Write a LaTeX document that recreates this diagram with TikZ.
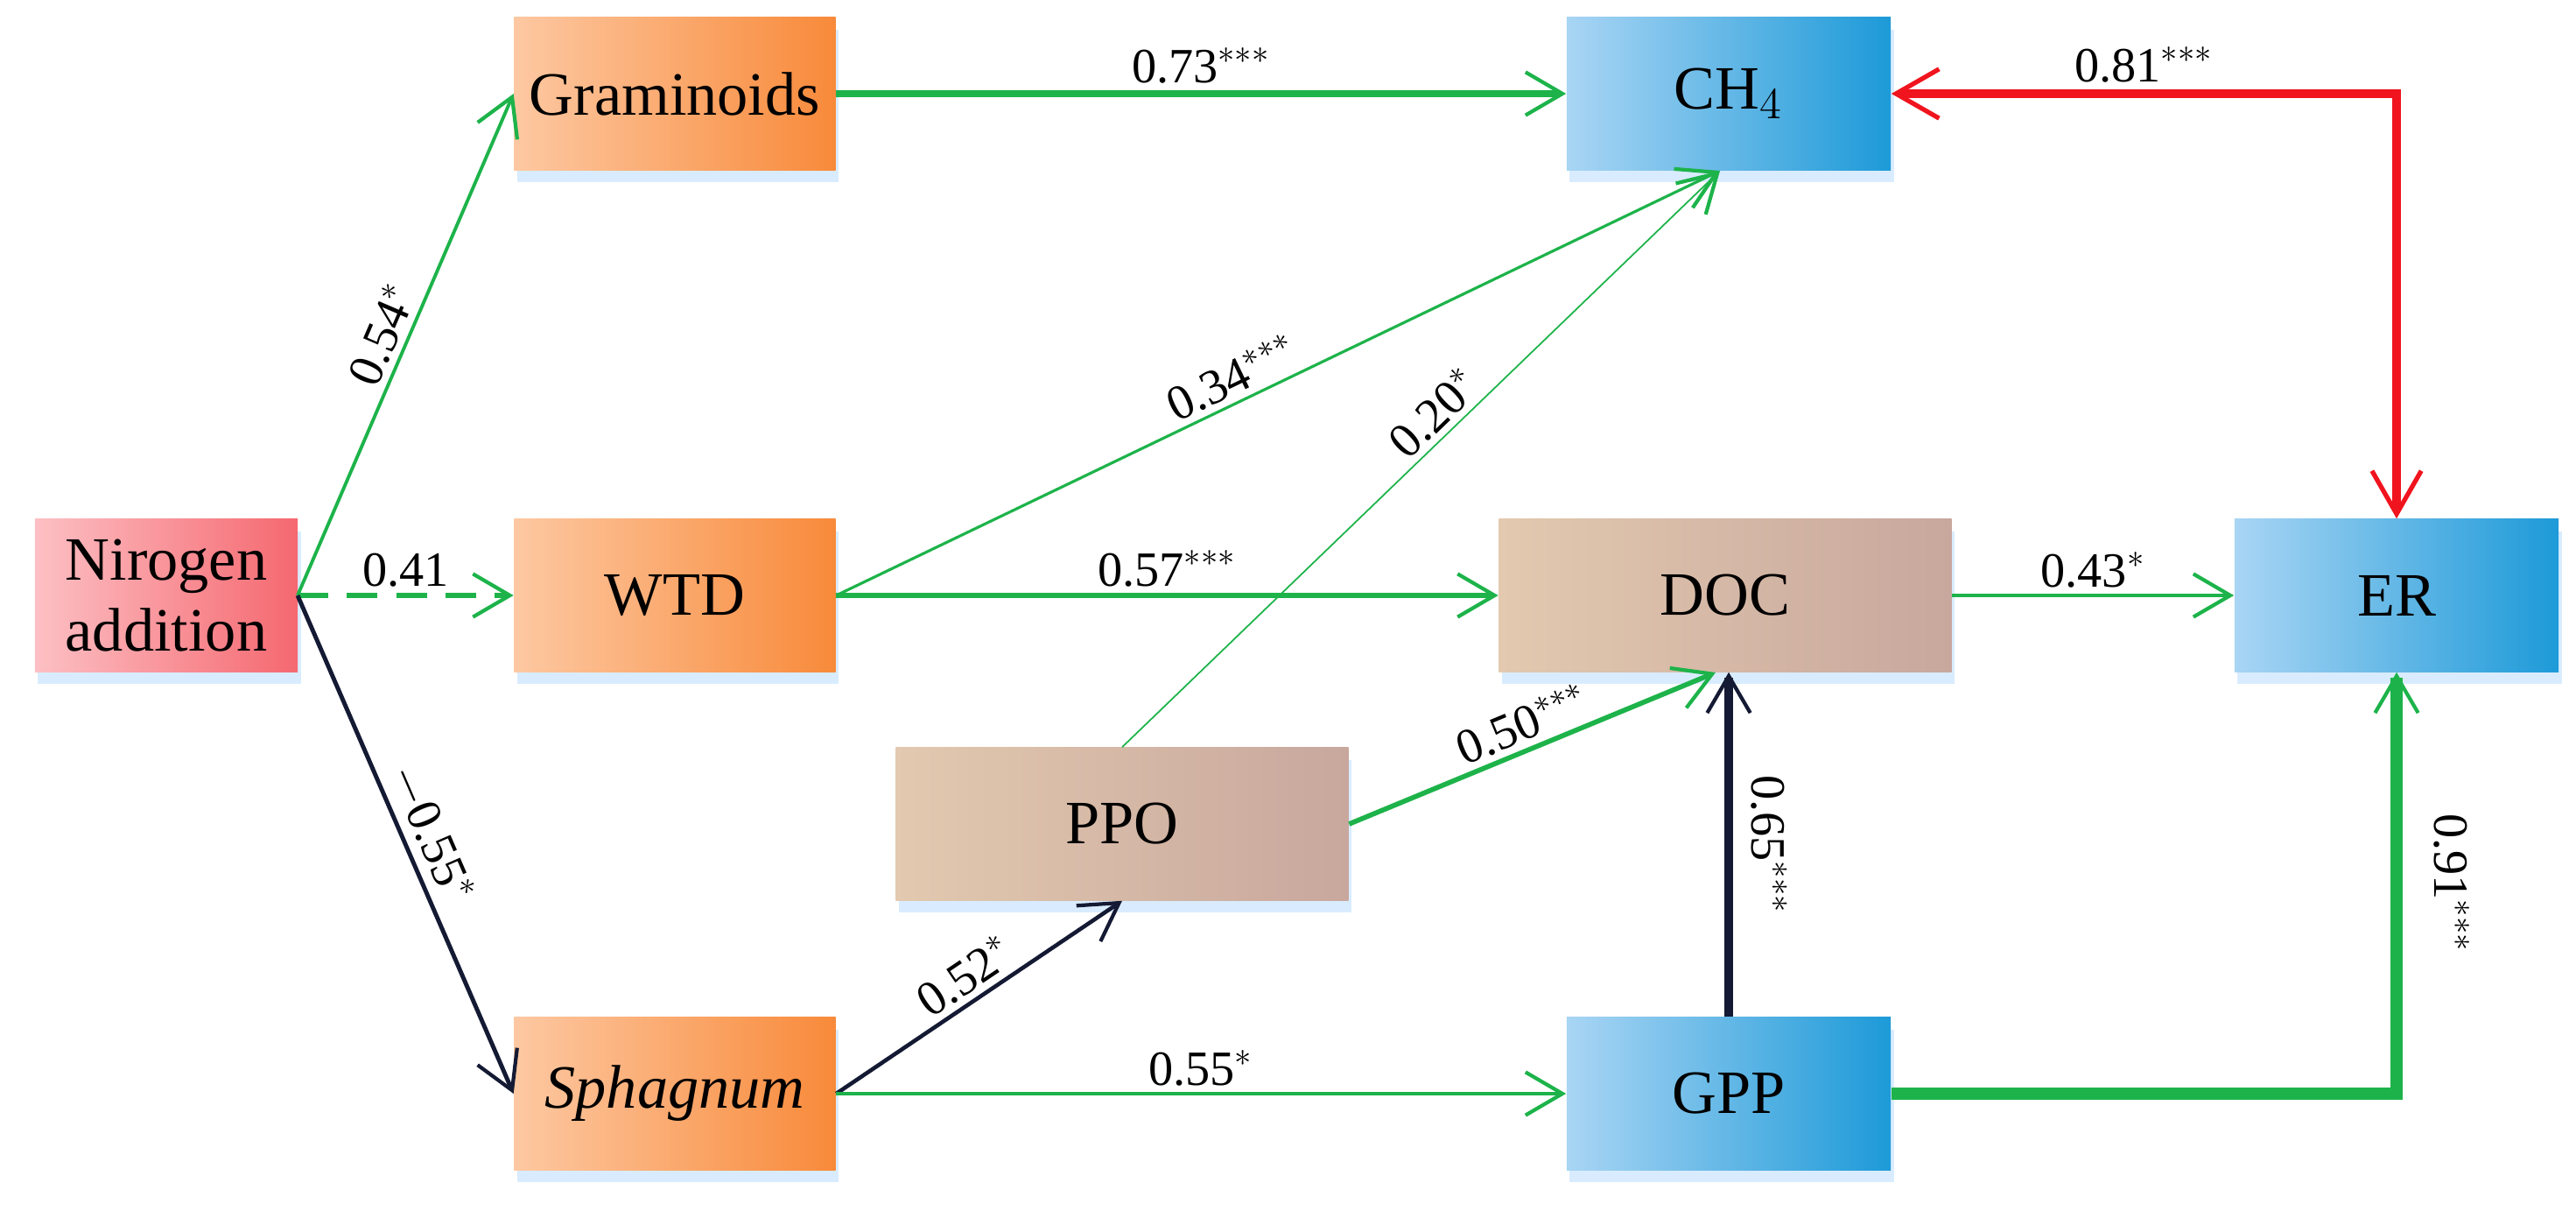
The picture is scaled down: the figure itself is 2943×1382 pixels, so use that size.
\documentclass[tikz,border=0pt]{standalone}
\usepackage{fontspec}
\setmainfont{Liberation Serif}
\usetikzlibrary{arrows.meta,shadows}
\definecolor{gr}{HTML}{1DB34A}
\definecolor{nv}{HTML}{141A33}
\definecolor{rd}{HTML}{F0141E}
\definecolor{oL}{HTML}{FDC8A2}
\definecolor{oR}{HTML}{F88A3A}
\definecolor{bL}{HTML}{A9D5F4}
\definecolor{bR}{HTML}{1D9AD8}
\definecolor{wL}{HTML}{E2C9AF}
\definecolor{wR}{HTML}{C8A79D}
\definecolor{rL}{HTML}{FCC0C4}
\definecolor{rR}{HTML}{F56870}
\begin{document}
\begin{tikzpicture}[x=0.01cm,y=-0.01cm,
  box/.style={minimum height=1.74cm,inner sep=0pt,align=center,font=\fontsize{20}{23}\selectfont,
    drop shadow={fill=blue!50!cyan!60,opacity=.25,shadow xshift=1pt,shadow yshift=-4pt}},
  org/.style={box,minimum width=3.67cm,left color=oL,right color=oR},
  blu/.style={box,minimum width=3.7cm,left color=bL,right color=bR},
  brn/.style={box,minimum width=5.17cm,left color=wL,right color=wR},
  red/.style={box,minimum width=3cm,left color=rL,right color=rR},
  ar/.style={-{Straight Barb[length=12pt,width=14pt,line width=1.2pt]}},
  lab/.style={font=\fontsize{16}{19}\selectfont,inner sep=2pt,text=black}]
\useasboundingbox (0,0) rectangle (2943,1382);
\node[red] (N) at (190,680) {Nirogen\\addition};
\node[org] (G) at (771,107) {Graminoids};
\node[org] (W) at (771,680) {WTD};
\node[org] (S) at (771,1249) {\itshape Sphagnum};
\node[blu] (C) at (1975,107) {CH$_4$};
\node[brn] (D) at (1971,680) {DOC};
\node[blu] (E) at (2738,680) {ER};
\node[brn] (P) at (1282,941) {PPO};
\node[blu] (Gp) at (1975,1249) {GPP};
\coordinate (n) at (340,680);
\coordinate (ct) at (1965,195);
\draw[ar,gr,line width=1.1pt] (n) -- (G.west) node[lab,midway,above,sloped]{0.54$^{*}$};
\draw[ar,gr,line width=1.8pt,dash pattern=on 10pt off 6pt] (n) -- (W.west) node[lab,midway,above]{0.41};
\draw[ar,nv,line width=1.4pt] (n) -- (S.west) node[lab,midway,above,sloped]{$-$0.55$^{*}$};
\draw[ar,gr,line width=2.4pt] (G) -- (C) node[lab,midway,above]{0.73$^{***}$};
\draw[rd,line width=3pt,{Straight Barb[length=14pt,width=16pt,line width=1.5pt]}-{Straight Barb[length=14pt,width=16pt,line width=1.5pt]}] (C.east) -- (2738,107) node[lab,midway,above]{0.81$^{***}$} -- (E.north);
\draw[ar,gr,line width=0.9pt] (W.east) -- (ct) node[lab,pos=0.46,above,sloped]{0.34$^{***}$};
\draw[ar,gr,line width=0.5pt] (P.north) -- (ct) node[lab,pos=0.55,above,sloped]{0.20$^{*}$};
\draw[ar,gr,line width=1.8pt] (W) -- (D) node[lab,midway,above]{0.57$^{***}$};
\draw[ar,gr,line width=1pt] (D) -- (E) node[lab,midway,above]{0.43$^{*}$};
\draw[ar,gr,line width=1.6pt] (P.east) -- (1960,768) node[lab,midway,above,sloped]{0.50$^{***}$};
\draw[ar,nv,line width=2.6pt] (Gp.north) -- (D.south-|Gp.north) node[lab,midway,rotate=-90,anchor=south,yshift=4pt]{0.65$^{***}$};
\draw[ar,gr,line width=4pt] (Gp.east) -- (2738,1249) -- (E.south) node[lab,midway,rotate=-90,anchor=south,yshift=8pt]{0.91$^{***}$};
\draw[ar,nv,line width=1.3pt] (S.east) -- (P.south) node[lab,midway,above,sloped]{0.52$^{*}$};
\draw[ar,gr,line width=1.1pt] (S) -- (Gp) node[lab,midway,above]{0.55$^{*}$};
\end{tikzpicture}
\end{document}
